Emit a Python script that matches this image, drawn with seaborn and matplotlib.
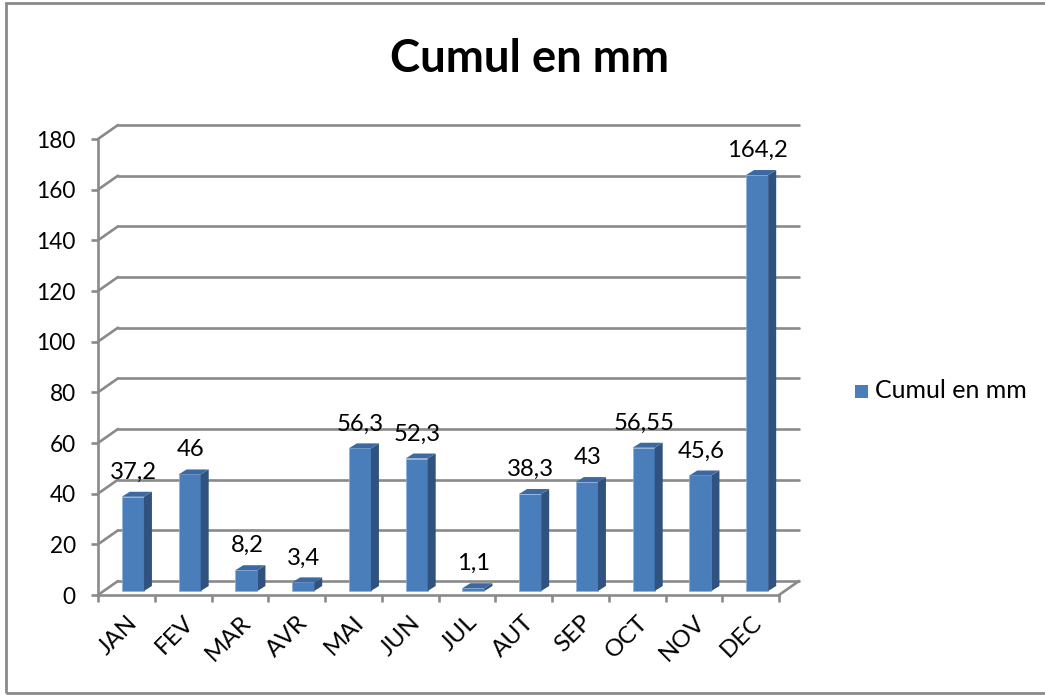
"""Cumul en mm: pseudo-3D column chart, seaborn bars with extruded faces."""
import matplotlib
matplotlib.use("Agg")
import matplotlib.pyplot as plt
import matplotlib.transforms as mtrans
import seaborn as sns
from matplotlib.patches import Rectangle
from matplotlib.ticker import FixedLocator, NullFormatter

months = ["JAN", "FEV", "MAR", "AVR", "MAI", "JUN", "JUL", "AUT", "SEP", "OCT", "NOV", "DEC"]
cumul = [37.2, 46, 8.2, 3.4, 56.3, 52.3, 1.1, 38.3, 43, 56.55, 45.6, 164.2]
y_ticks = list(range(0, 181, 20))
title = "Cumul en mm"

FRONT = "#4a7ebb"
SIDE = "#30527f"
TOP = "#3c69a1"
GRID = "#8a8a8a"
W, H = 1045, 695

sns.set_theme(style="white")
plt.rcParams["font.family"] = ["Lato", "DejaVu Sans"]

fig = plt.figure(figsize=(W / 100, H / 100), dpi=100)
ax = fig.add_axes([98 / W, 1 - 595 / H, 681 / W, 456 / H])
ax.patch.set_visible(False)

# outer chart frame
fig.add_artist(Rectangle((5.5 / W, 2.5 / H), 1.2, 1 - 5.5 / H, transform=fig.transFigure,
                         fill=False, edgecolor=GRID, linewidth=2))

sns.barplot(x=months, y=cumul, ax=ax, color=FRONT, width=0.39, saturation=1, zorder=3)
ax.set_xlim(-0.5, 11.5)
ax.set_ylim(0, 180)
ax.set_xlabel("")
ax.set_ylabel("")


def shifted(dx, dy):
    return ax.transData + mtrans.Affine2D().translate(dx, dy)


# back wall and floor, pushed away from the front plane
for v in y_ticks:
    ax.plot([-0.5, 11.5], [v, v], color=GRID, lw=1.9, transform=shifted(20, 14),
            clip_on=False, zorder=1)
    ax.plot([0, 20 / 56.75], [v, v + 14 / 2.533], color=GRID, lw=1.9,
            transform=ax.transData + mtrans.Affine2D().translate(-28.4, 0),
            clip_on=False, zorder=1)
ax.plot([11.5, 11.5 + 20 / 56.75], [0, 14 / 2.533], color=GRID, lw=1.9, clip_on=False, zorder=1)

# bars: move the front faces onto the floor, add side and top faces
bar_shift = mtrans.Affine2D().translate(6.5, 4)
for bar, v in zip(ax.patches, cumul):
    bar.set_transform(ax.transData + bar_shift)
    bar.set_edgecolor("#8fb0d8")
    bar.set_linewidth(0.5)
    x0 = bar.get_x()
    x1 = x0 + bar.get_width()
    dx = 8 / 56.75
    dy = 5 / 2.533
    ax.fill([x1, x1 + dx, x1 + dx, x1], [0, dy, v + dy, v], color=SIDE, lw=0,
            transform=ax.transData + bar_shift, clip_on=False, zorder=3)
    ax.fill([x0, x0 + dx, x1 + dx, x1], [v, v + dy, v + dy, v], color=TOP, lw=0,
            transform=ax.transData + bar_shift, clip_on=False, zorder=3)
    ax.annotate(f"{v:g}".replace(".", ","), xy=(bar.get_x() + bar.get_width() / 2, v),
                xytext=(7 * 0.72, 28.5 * 0.72), textcoords="offset points",
                ha="center", va="center", fontsize=17.2, color="black", zorder=5)

ax.spines[["top", "right"]].set_visible(False)
ax.spines[["left", "bottom"]].set_color(GRID)
ax.spines[["left", "bottom"]].set_linewidth(1.9)

ax.set_yticks(y_ticks)
ax.tick_params(axis="y", left=True, length=5, width=1.9, color=GRID, labelsize=16.3,
               labelcolor="black", pad=11)
ax.xaxis.set_major_locator(FixedLocator([i - 0.5 for i in range(len(months) + 1)]))
ax.xaxis.set_major_formatter(NullFormatter())
ax.xaxis.set_minor_locator(FixedLocator(range(len(months))))
ax.set_xticklabels(months, minor=True, rotation=45, ha="right", rotation_mode="anchor",
                   fontsize=17.5, color="black")
for label in ax.get_xticklabels(minor=True):
    label.set_x(label.get_position()[0])
ax.tick_params(axis="x", which="major", bottom=True, length=5, width=1.9, color=GRID)
ax.tick_params(axis="x", which="minor", bottom=False, length=0, pad=12)

fig.text(529 / W, 1 - 59 / H, title, ha="center", va="center", fontsize=32.8,
         fontweight="bold", color="black")

# legend
fig.add_artist(Rectangle((855 / W, 1 - 398 / H), 13 / W, 13 / H, transform=fig.transFigure,
                         facecolor=FRONT, edgecolor="none"))
fig.text(875 / W, 1 - 391 / H, title, ha="left", va="center", fontsize=18, color="black")

fig.savefig("out.png", dpi=100)
